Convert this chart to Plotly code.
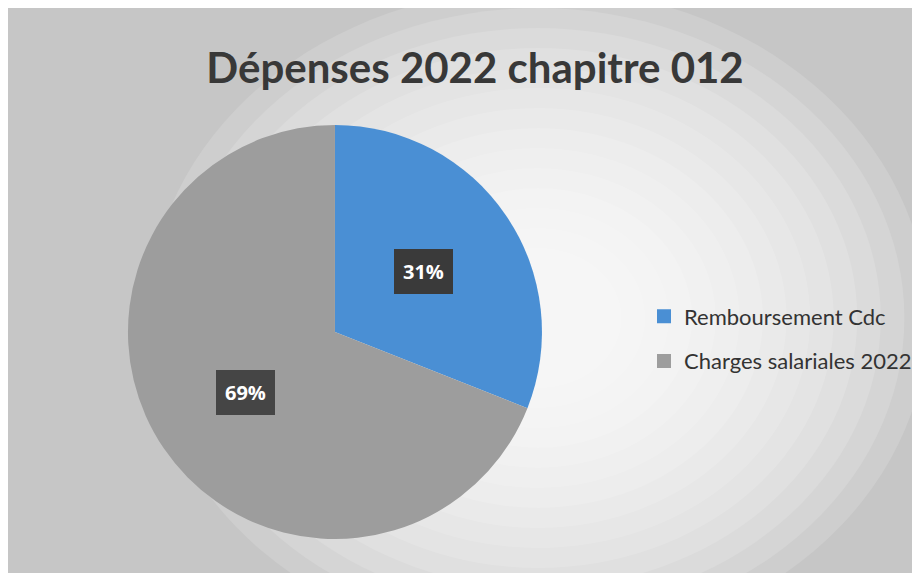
import math
import plotly.graph_objects as go

labels = ["Remboursement Cdc", "Charges salariales 2022"]
values = [31, 69]
colors = ["#4a8fd4", "#9d9d9d"]
title = "Dépenses 2022 chapitre 012"

W, H = 920, 573
# pie placement (figure pixels): centre (327, 324), radius 207
dom_x = [0.1304, 0.5804]
dom_y = [0.0733, 0.7958]

fig = go.Figure()
fig.add_trace(go.Pie(
    labels=labels, values=values, sort=False, direction="clockwise", rotation=0,
    marker=dict(colors=colors, line=dict(width=0)),
    textinfo="none", hoverinfo="label+percent", showlegend=False,
    domain=dict(x=dom_x, y=dom_y),
))

# legend entries (one per slice, same labels/colours as the pie)
for i, (lab, col) in enumerate(zip(labels, colors)):
    fig.add_trace(go.Scatter(
        x=[None], y=[None], mode="markers", name=lab, legendgroup=f"g{i}",
        marker=dict(symbol="square", size=14, color=col), hoverinfo="skip",
    ))

# percent labels with dark boxes, placed from data at mid-slice angles
cx_px = (dom_x[0] + dom_x[1]) / 2 * W
cy_px = (1 - (dom_y[0] + dom_y[1]) / 2) * H
R_px = min((dom_x[1] - dom_x[0]) * W, (dom_y[1] - dom_y[0]) * H) / 2
total = sum(values)
cum = 0
annotations = []
box_colors = ["#3a3a3a", "#454545"]
for v, bc in zip(values, box_colors):
    mid = (cum + v / 2) / total * 2 * math.pi
    cum += v
    r = 0.52 * R_px
    px = cx_px + r * math.sin(mid)
    py = cy_px - r * math.cos(mid)
    annotations.append(dict(
        x=px / W, y=1 - py / H, xref="paper", yref="paper",
        xanchor="center", yanchor="middle",
        text=f"<b>{round(v / total * 100)}%</b>", showarrow=False,
        font=dict(family="Open Sans, sans-serif", size=20, color="white"),
        bgcolor=bc, borderpad=9, borderwidth=0,
    ))

# soft scanner glow behind the chart
shapes = []
gx, gy = 530, 310
n = 14
for i in range(n):
    f = 1 - i / n
    rx, ry = 60 + 330 * f, 50 + 280 * f
    shapes.append(dict(type="circle", xref="paper", yref="paper", layer="below",
                       x0=(gx - rx) / W, x1=(gx + rx) / W, y0=1 - (gy + ry) / H, y1=1 - (gy - ry) / H,
                       fillcolor="white", opacity=0.14, line=dict(width=0)))

fig.update_layout(
    width=W, height=H,
    margin=dict(l=0, r=0, t=0, b=0),
    paper_bgcolor="#c6c6c6", plot_bgcolor="rgba(0,0,0,0)",
    xaxis=dict(visible=False), yaxis=dict(visible=False),
    title=dict(text=f"<b>{title}</b>", x=467 / W, xanchor="center", y=1 - 60 / H, yanchor="middle",
               font=dict(family="Lato, sans-serif", size=42, color="#383838")),
    legend=dict(x=636 / W, xanchor="left", y=1 - 331 / H, yanchor="middle",
                font=dict(family="Lato, sans-serif", size=22, color="#333333"),
                tracegroupgap=13, bgcolor="rgba(0,0,0,0)"),
    annotations=annotations,
    shapes=shapes,
)

fig.write_html("out.html")
